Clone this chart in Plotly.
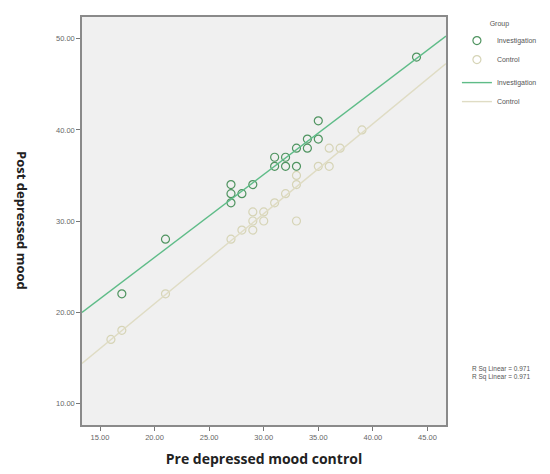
import numpy as np
import plotly.graph_objects as go

# Investigation group (green open circles)
inv_pre = [17, 21, 27, 27, 27, 28, 29, 31, 31, 32, 32, 33, 33, 34, 34, 35, 35, 44]
inv_post = [22, 28, 34, 33, 32, 33, 34, 37, 36, 37, 36, 38, 36, 39, 38, 39, 41, 48]

# Control group (pale open circles)
ctl_pre = [16, 17, 21, 27, 28, 29, 29, 29, 30, 30, 31, 32, 33, 33, 33, 35, 36, 36, 37, 39]
ctl_post = [17, 18, 22, 28, 29, 29, 30, 31, 30, 31, 32, 33, 34, 35, 30, 36, 36, 38, 38, 40]

x_ticks = [15, 20, 25, 30, 35, 40, 45]
y_ticks = [10, 20, 30, 40, 50]
x_range = [13.35, 46.7]
y_range = [7.6, 52.4]

INV_MK = "#4f9460"
INV_LN = "#5fbc88"
CTL_MK = "#d6d4b6"
CTL_LN = "#dfdcc4"


def fit(x, y):
    x = np.asarray(x, float)
    y = np.asarray(y, float)
    b, a = np.polyfit(x, y, 1)
    pred = a + b * x
    r2 = 1 - ((y - pred) ** 2).sum() / ((y - y.mean()) ** 2).sum()
    return a, b, r2


ia, ib, ir2 = fit(inv_pre, inv_post)
ca, cb, cr2 = fit(ctl_pre, ctl_post)
xs = np.array(x_range)

fig = go.Figure()
fig.add_trace(go.Scatter(
    x=inv_pre, y=inv_post, mode="markers", name="Investigation",
    legendgroup="m", marker=dict(symbol="circle-open", size=8, color=INV_MK, line=dict(width=1.2))))
fig.add_trace(go.Scatter(
    x=ctl_pre, y=ctl_post, mode="markers", name="Control",
    legendgroup="m", marker=dict(symbol="circle-open", size=8, color=CTL_MK, line=dict(width=1.2))))
fig.add_trace(go.Scatter(
    x=xs, y=ia + ib * xs, mode="lines", name="Investigation",
    legendgroup="l", line=dict(color=INV_LN, width=1.4)))
fig.add_trace(go.Scatter(
    x=xs, y=ca + cb * xs, mode="lines", name="Control",
    legendgroup="l", line=dict(color=CTL_LN, width=1.4)))

fig.add_annotation(
    x=1.066, y=0.127, xref="paper", yref="paper", xanchor="left", yanchor="middle",
    align="left", showarrow=False,
    text=f"R Sq Linear = {ir2:.3f}<br>R Sq Linear = {cr2:.3f}",
    font=dict(family="Liberation Sans, Arial", size=6.5, color="#555"))

# y-axis title, reading top to bottom as in the original
fig.add_annotation(
    x=-0.165, y=0.5, xref="paper", yref="paper", xanchor="center", yanchor="middle",
    showarrow=False, textangle=90,
    text="<b>Post depressed mood</b>",
    font=dict(family="Open Sans", size=13, color="#222"))

axis_common = dict(
    showgrid=False, zeroline=False, showline=True, linecolor="#8a8a8a", linewidth=1.5,
    mirror=True, ticks="outside", ticklen=4, tickcolor="#777",
    tickfont=dict(family="Liberation Sans, Arial", size=7.5, color="#666"),
    tickformat=".2f",
)

fig.update_layout(
    width=550, height=474,
    paper_bgcolor="white", plot_bgcolor="#f0f0f0",
    margin=dict(l=74, r=112, t=7, b=57),
    xaxis=dict(range=x_range, tickvals=x_ticks, **axis_common,
               title=dict(text="<b>Pre depressed mood control</b>", standoff=13,
                          font=dict(family="Open Sans", size=14, color="#222"))),
    yaxis=dict(range=y_range, tickvals=y_ticks, **axis_common),
    legend=dict(x=1.03, y=1.0, xanchor="left", yanchor="top",
                font=dict(family="Liberation Sans, Arial", size=7, color="#555"),
                title=dict(text="Group", side="top center",
                           font=dict(family="Liberation Sans, Arial", size=7, color="#555")),
                tracegroupgap=4, itemwidth=30, bgcolor="rgba(0,0,0,0)"),
    showlegend=True,
)

fig.write_html("out.html")
